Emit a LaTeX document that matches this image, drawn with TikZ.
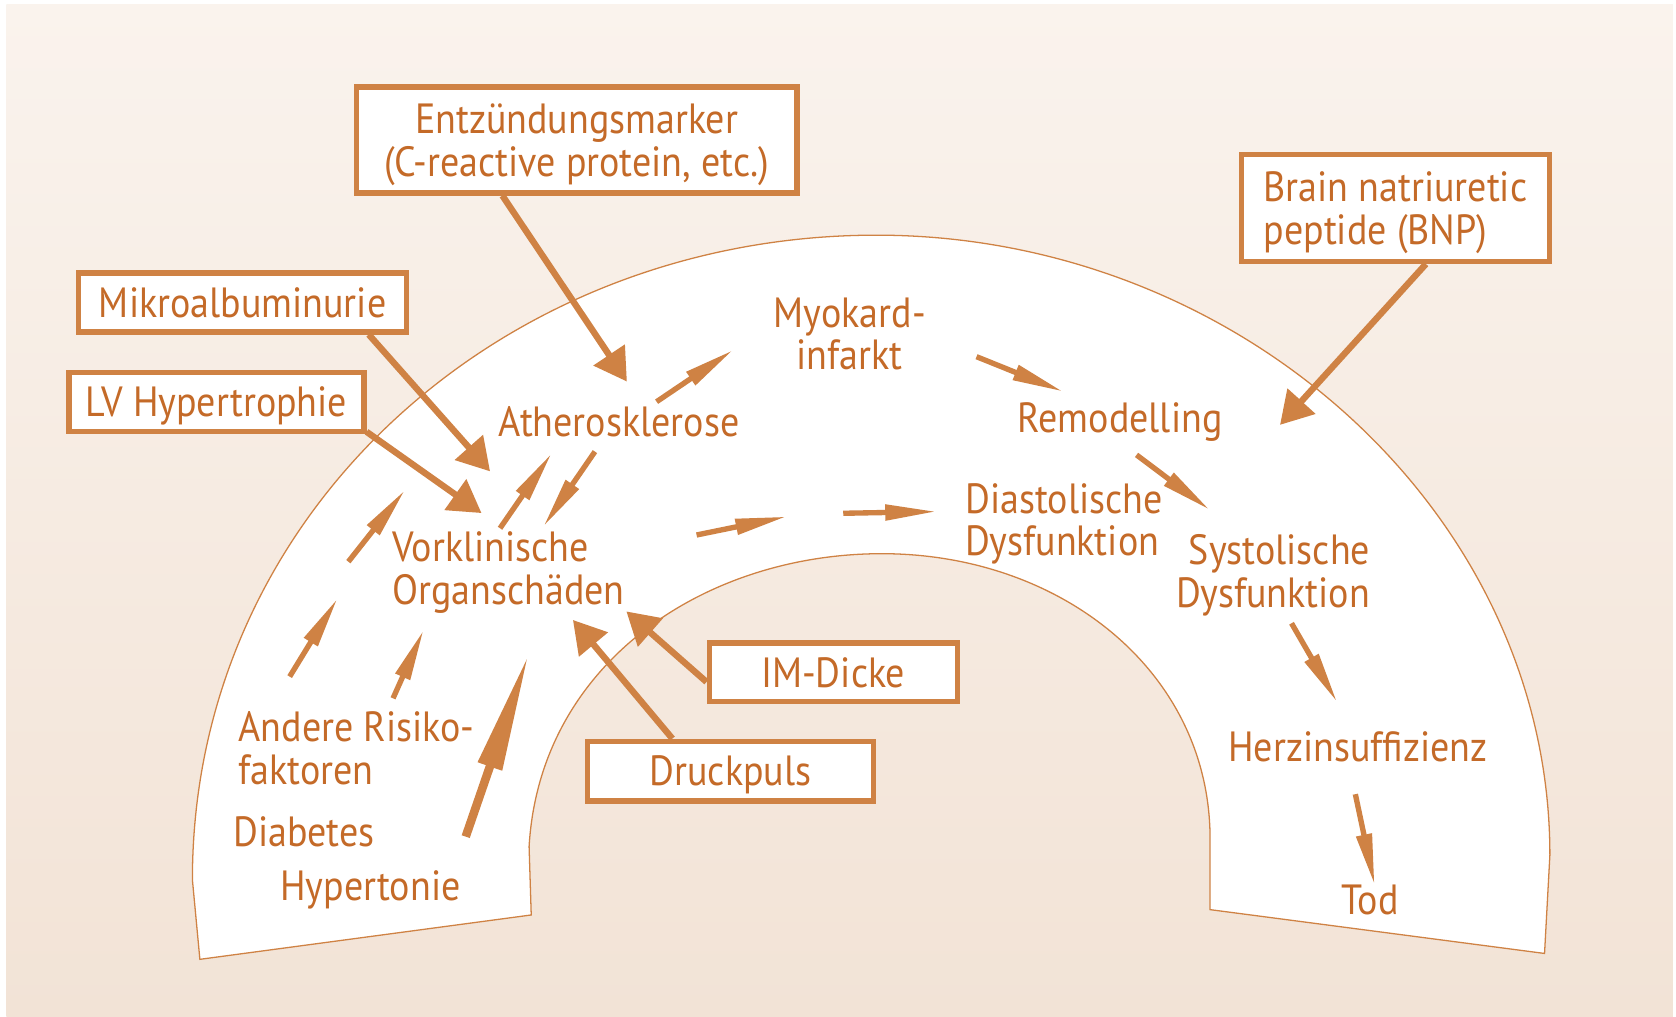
\documentclass[tikz,border=0pt]{standalone}
\usepackage{fontspec}
\setmainfont{PT Sans}[FakeStretch=0.9]
\usetikzlibrary{arrows.meta}
\definecolor{txt}{RGB}{196,106,40}
\definecolor{ln}{RGB}{207,130,68}
\definecolor{bgtop}{RGB}{250,243,237}
\definecolor{bgbot}{RGB}{242,227,214}
\newcommand{\twoL}[3]{\begin{tabular}[t]{@{}#1@{}}#2\\#3\end{tabular}}
\begin{document}
\begin{tikzpicture}[x=1pt,y=-1pt,
  lbl/.style={text=txt,font=\fontsize{39.5}{40}\selectfont,inner sep=0pt},
  tbox/.style={lbl,draw=ln,line width=5pt,fill=white,rectangle},
  lineone/.style={text height=27.5pt,text depth=0pt},
  linetwo/.style={text height=27.5pt,text depth=40pt},
  bigarr/.style={draw=ln,line width=6pt,-{Triangle[length=30pt,width=34pt]}},
  smallarr/.style={draw=ln,line width=5pt,-{Triangle[length=48pt,width=14pt]}},
  hugearr/.style={draw=ln,line width=8pt,-{Triangle[length=112pt,width=22pt]}},
  archshape/.style={draw=ln,line width=1.2pt,fill=white}]
\useasboundingbox (0,0) rectangle (1568,951);
\fill[white] (0,0) rectangle (1568,951);
\shade[top color=bgtop,bottom color=bgbot] (6,4) rectangle (1565,951);

% arch
\path[archshape] (187,897.5) -- (180,823)
  .. controls (180,480) and (470,220) .. (820,220)
  .. controls (1160,220) and (1450,480) .. (1450,800)
  -- (1445,892) -- (1132,851) -- (1132,778)
  .. controls (1128,625) and (990,518) .. (825,518)
  .. controls (660,518) and (505,620) .. (495,792)
  -- (497,856) -- cycle;

% boxes
\node[tbox,linetwo,minimum width=412pt,minimum height=99pt] (entz) at (539.5,131)
  {\twoL{c}{Entzündungsmarker}{(C-reactive protein, etc.)}};
\node[tbox,linetwo,minimum width=288pt,minimum height=100pt] (bnp) at (1305.5,194.5)
  {\twoL{l}{Brain natriuretic}{peptide (BNP)}};
\node[tbox,lineone,minimum width=307pt,minimum height=55pt] (mikro) at (227,283) {Mikroalbuminurie};
\node[tbox,lineone,minimum width=276pt,minimum height=55pt] (lvh) at (202.5,376) {LV Hypertrophie};
\node[tbox,lineone,minimum width=232pt,minimum height=55pt] (imd) at (779.5,629) {IM-Dicke};
\node[tbox,lineone,minimum width=268pt,minimum height=56pt] (druck) at (683.5,721.5) {Druckpuls};

% labels
\node[lbl,anchor=base] (myo) at (795,306) {\twoL{c}{Myokard-}{infarkt}};
\node[lbl,anchor=base west] (ath) at (466,408) {Atherosklerose};
\node[lbl,anchor=base west] (rem) at (952,405) {Remodelling};
\node[lbl,anchor=base west] (dia) at (903,480) {\twoL{l}{Diastolische}{Dysfunktion}};
\node[lbl,anchor=base west] (vork) at (367,525) {\twoL{l}{Vorklinische}{Organschäden}};
\node[lbl,anchor=base east] (sys) at (1282,528.5) {\twoL{r}{Systolische}{Dysfunktion}};
\node[lbl,anchor=base west] (herz) at (1149,712) {Herzinsuffizienz};
\node[lbl,anchor=base west] (tod) at (1255,856) {Tod};
\node[lbl,anchor=base west] (andere) at (223,694) {\twoL{l}{Andere Risiko-}{faktoren}};
\node[lbl,anchor=base west] (diab) at (218,792) {Diabetes};
\node[lbl,anchor=base west] (hyper) at (262,842) {Hypertonie};

% arrow end points
\coordinate (p1a) at (470,183);    \coordinate (p1b) at (586.5,357);
\coordinate (p2a) at (1334,247);   \coordinate (p2b) at (1197.5,397.5);
\coordinate (p3a) at (345,313);    \coordinate (p3b) at (458.5,441);
\coordinate (p4a) at (343,404);    \coordinate (p4b) at (450.5,480);
\coordinate (p5a) at (661,638);    \coordinate (p5b) at (586,572);
\coordinate (p6a) at (629,691);    \coordinate (p6b) at (536,580);

\coordinate (q1a) at (614.3,375.8);  \coordinate (q1b) at (686,327.4);
\coordinate (q2a) at (913.6,333.7);  \coordinate (q2b) at (994.7,366.4);
\coordinate (q3a) at (1063.3,425.6); \coordinate (q3b) at (1131.9,477.1);
\coordinate (q4a) at (1208.3,583.1); \coordinate (q4b) at (1251,657);
\coordinate (q5a) at (1268,743);     \coordinate (q5b) at (1286,828);
\coordinate (q6a) at (467.8,494.2);  \coordinate (q6b) at (516.1,424.1);
\coordinate (q7a) at (556.6,422.5);  \coordinate (q7b) at (508.3,492.7);
\coordinate (q8a) at (651.7,500.5);  \coordinate (q8b) at (735.9,483.3);
\coordinate (q9a) at (788.9,480.2);  \coordinate (q9b) at (876.2,478.6);
\coordinate (q10a) at (271,633);     \coordinate (q10b) at (315.8,559.8);
\coordinate (q11a) at (325.9,525.5); \coordinate (q11b) at (378.9,458.4);
\coordinate (q12a) at (367.7,653.3); \coordinate (q12b) at (396.3,589.4);
\coordinate (h1a) at (435.7,782.7);  \coordinate (h1b) at (494.8,611.2);

% arrows
\draw[bigarr] (p1a) -- (p1b);
\draw[bigarr] (p2a) -- (p2b);
\draw[bigarr] (p3a) -- (p3b);
\draw[bigarr] (p4a) -- (p4b);
\draw[bigarr] (p5a) -- (p5b);
\draw[bigarr] (p6a) -- (p6b);
\foreach \i in {1,...,12} {\draw[smallarr] (q\i a) -- (q\i b);}
\draw[hugearr] (h1a) -- (h1b);
\end{tikzpicture}
\end{document}
